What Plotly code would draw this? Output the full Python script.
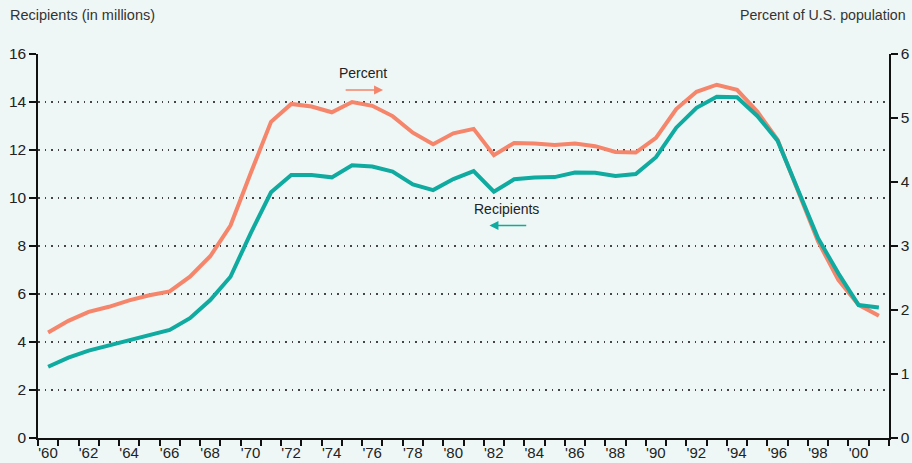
import plotly.graph_objects as go

years = list(range(1960, 2002))
recipients = [2.97, 3.35, 3.64, 3.85, 4.08, 4.30, 4.50, 4.99, 5.75, 6.72,
              8.54, 10.24, 10.96, 10.96, 10.86, 11.36, 11.31, 11.10, 10.57, 10.33,
              10.79, 11.12, 10.26, 10.78, 10.85, 10.87, 11.06, 11.05, 10.92, 11.00,
              11.70, 12.93, 13.76, 14.22, 14.20, 13.42, 12.39, 10.35, 8.32, 6.86,
              5.54, 5.44]
percent = [1.65, 1.83, 1.97, 2.05, 2.15, 2.23, 2.29, 2.52, 2.84, 3.32,
           4.14, 4.94, 5.22, 5.18, 5.09, 5.25, 5.19, 5.03, 4.77, 4.59,
           4.76, 4.83, 4.42, 4.61, 4.60, 4.58, 4.60, 4.56, 4.47, 4.46,
           4.69, 5.14, 5.41, 5.52, 5.44, 5.10, 4.66, 3.85, 3.07, 2.47,
           2.08, 1.91]
label_years = list(range(1960, 2001, 2))
tick_labels = ["'60", "'62", "'64", "'66", "'68", "'70", "'72", "'74", "'76", "'78",
               "'80", "'82", "'84", "'86", "'88", "'90", "'92", "'94", "'96", "'98", "'00"]

ORANGE = "#F5856B"
TEAL = "#0FAAA0"
BG = "#EEF7F5"
FONT = "Liberation Sans, Arial, sans-serif"

xs = [y + 0.5 for y in years]

fig = go.Figure()
fig.add_trace(go.Scatter(x=xs, y=percent, mode="lines", yaxis="y",
                         line=dict(color=ORANGE, width=4), name="Percent"))
fig.add_trace(go.Scatter(x=xs, y=recipients, mode="lines", yaxis="y2",
                         line=dict(color=TEAL, width=4), name="Recipients"))

fig.update_layout(
    width=912, height=463,
    margin=dict(l=38, r=23, t=54, b=25),
    paper_bgcolor=BG, plot_bgcolor=BG,
    showlegend=False,
    font=dict(family=FONT, size=15.5, color="#222"),
    xaxis=dict(range=[1960, 2002], tickvals=label_years, ticktext=tick_labels,
               ticks="outside", ticklen=6, tickwidth=1.5, tickcolor="#111",
               showline=True, linecolor="#111", linewidth=1.5, automargin=False,
               showgrid=False, zeroline=False, ticklabelshift=10,
               ticklabelstandoff=-6,
               tickfont=dict(size=15),
               minor=dict(ticks="outside", dtick=1, tick0=1960, ticklen=6,
                          tickwidth=1.5, tickcolor="#111", showgrid=False)),
    yaxis=dict(range=[0, 6], dtick=1, side="right", ticks="outside", ticklen=7,
               tickwidth=1.5, tickcolor="#111", showline=True, linecolor="#111",
               linewidth=1.5, showgrid=False, zeroline=False, automargin=False),
    yaxis2=dict(range=[0, 16], dtick=2, side="left", overlaying="y", anchor="x",
                ticks="outside", ticklen=7, tickwidth=1.5, tickcolor="#111",
                showline=True, linecolor="#111", linewidth=1.5, automargin=False,
                showgrid=True, gridcolor="#444", gridwidth=1.5, griddash="1.5px,5px",
                zeroline=False),
)

annotations = [
    dict(text="Recipients (in millions)", xref="paper", yref="paper",
         x=-0.0353, y=1.1016, xanchor="left", yanchor="middle", showarrow=False,
         font=dict(size=14.5, color="#333")),
    dict(text="Percent of U.S. population", xref="paper", yref="paper",
         x=1.0223, y=1.1016, xanchor="right", yanchor="middle", showarrow=False,
         font=dict(size=14.2, color="#333")),
    dict(text="Percent", xref="x", yref="y2", x=1976.02, y=15.21, showarrow=False,
         font=dict(size=14, color="#222")),
    dict(text="Recipients", xref="x", yref="y2", x=1983.1, y=9.54, showarrow=False,
         font=dict(size=14, color="#222")),
    dict(text="", xref="x", yref="y2", axref="x", ayref="y2",
         x=1977.03, y=14.5, ax=1975.11, ay=14.5, showarrow=True,
         arrowhead=2, arrowsize=1.2, arrowwidth=1.5, arrowcolor=ORANGE),
    dict(text="", xref="x", yref="y2", axref="x", ayref="y2",
         x=1982.28, y=8.85, ax=1984.17, ay=8.85, showarrow=True,
         arrowhead=2, arrowsize=1.2, arrowwidth=1.5, arrowcolor=TEAL),
]
fig.update_layout(annotations=annotations)

fig.write_html("out.html", config={"displayModeBar": False},
               post_script="document.body.style.margin='0';")
